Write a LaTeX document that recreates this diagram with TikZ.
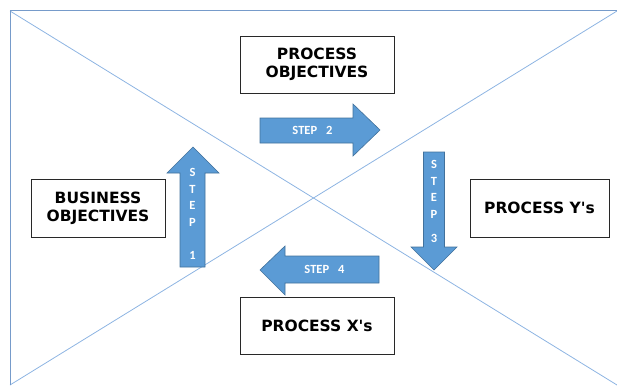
\documentclass[tikz,border=0pt]{standalone}
\usepackage{fontspec}
\setmainfont{DejaVu Sans}
% no TeX ligature mapping here, so ' stays a straight quote
\newfontfamily\boxfont{DejaVu Sans}
\newfontfamily\stepfont{Carlito}
\definecolor{framec}{RGB}{118,155,202}
\definecolor{diagc}{RGB}{141,180,226}
\definecolor{arrowfill}{RGB}{91,155,213}
\definecolor{arrowedge}{RGB}{65,113,156}
\definecolor{boxedge}{RGB}{40,40,40}
\tikzset{
  goalbox/.style={draw=boxedge, line width=0.9pt, fill=white, inner sep=0pt,
    font=\boxfont\bfseries\fontsize{15.5}{18}\selectfont, align=center},
  blockarrow/.style={fill=arrowfill, draw=arrowedge, line width=0.6pt, line join=miter},
  steptext/.style={text=white, font=\stepfont\bfseries\fontsize{12.5}{16.5}\selectfont,
    align=center, inner sep=0pt},
}
\begin{document}
\begin{tikzpicture}[x=1pt, y=-1pt]
  \useasboundingbox (0,0) rectangle (617,385);
  % placeholder frame with crossed diagonals
  \draw[diagc, line width=0.8pt] (10,11) -- (617,385);
  \draw[diagc, line width=0.8pt] (10,385) -- (617,11);
  \draw[framec, line width=1pt] (10,385) -- (10,11) -- (617,11);

  % goal boxes
  \node[goalbox, minimum width=154pt, minimum height=57pt] (po) at (317,64.5) {PROCESS\\OBJECTIVES};
  \node[goalbox, minimum width=134pt, minimum height=58pt] (bo) at (98,208) {BUSINESS\\OBJECTIVES};
  \node[goalbox, minimum width=139pt, minimum height=58pt] (py) at (539.5,208) {PROCESS Y's};
  \node[goalbox, minimum width=154pt, minimum height=57pt] (px) at (317,325.5) {PROCESS X's};

  % step 1: upwards
  \draw[blockarrow] (180,267) -- (180,173) -- (167,173) -- (193,147) -- (219,173)
    -- (205,173) -- (205,267) -- cycle;
  \node[steptext] (s1) at (192.5,214) {S\\T\\E\\P\\[16.5pt]1};

  % step 2: rightwards
  \draw[blockarrow] (260,118) -- (353,118) -- (353,104) -- (380,130) -- (353,156)
    -- (353,143) -- (260,143) -- cycle;
  \node[steptext] (s2) at (312.5,130) {STEP\hspace{9pt}2};

  % step 3: downwards
  \draw[blockarrow] (423.5,152) -- (444.5,152) -- (444.5,247) -- (457,247) -- (434,270)
    -- (411,247) -- (423.5,247) -- cycle;
  \node[steptext] (s3) at (434,201.5) {S\\T\\E\\P\\[8pt]3};

  % step 4: leftwards
  \draw[blockarrow] (379,256) -- (285,256) -- (285,246) -- (260,270) -- (285,295)
    -- (285,283) -- (379,283) -- cycle;
  \node[steptext] (s4) at (324.5,269.5) {STEP\hspace{9pt}4};
\end{tikzpicture}
\end{document}
